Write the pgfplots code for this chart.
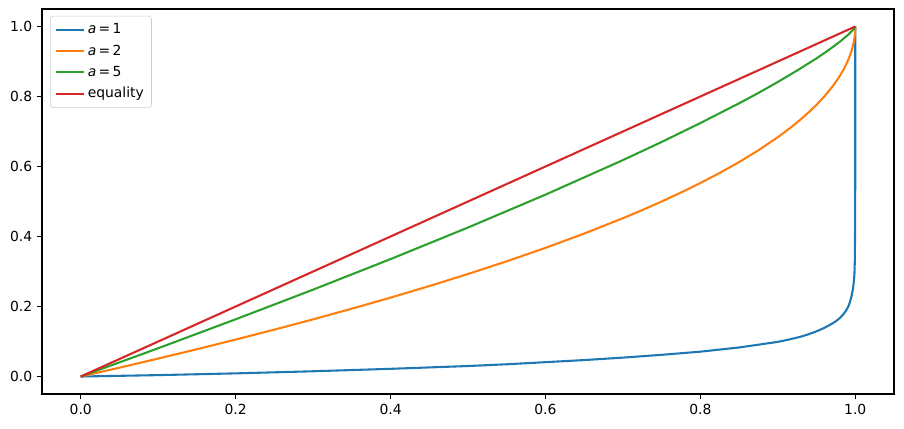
\documentclass[border=0pt]{standalone}
\usepackage{fontspec}
\setmainfont{DejaVu Sans}
\usepackage{pgfplots}
\pgfplotsset{compat=1.18}
\definecolor{C0}{HTML}{1F77B4}
\definecolor{C1}{HTML}{FF7F0E}
\definecolor{C2}{HTML}{2CA02C}
\definecolor{C3}{HTML}{D62728}
\begin{document}
\begin{tikzpicture}
\begin{axis}[
  name=ax,
  scale only axis,
  width=613.4pt, height=277.2pt,
  xmin=-0.05, xmax=1.05, ymin=-0.05, ymax=1.05,
  xtick={0,0.2,0.4,0.6,0.8,1.0},
  ytick={0,0.2,0.4,0.6,0.8,1.0},
  /pgf/number format/assume math mode=true,
  xticklabel style={/pgf/number format/fixed,/pgf/number format/fixed zerofill,/pgf/number format/precision=1},
  yticklabel style={/pgf/number format/fixed,/pgf/number format/fixed zerofill,/pgf/number format/precision=1},
  tick align=outside, tickpos=left,
  major tick length=3.5pt,
  every tick/.style={black, line width=0.8pt},
  axis line style={line width=0.8pt},
  ticklabel style={font=\fontsize{10}{12}\selectfont},
  legend style={at={(0.0094,0.982)}, anchor=north west,
    draw=black!20, rounded corners=2pt, font=\fontsize{10}{12}\selectfont,
    row sep=2.4pt, inner sep=3.5pt},
  legend cell align=left,
  legend image code/.code={\draw[#1, line width=1.5pt] (0pt,0pt) -- (20pt,0pt);},
  every axis plot/.append style={line width=1.5pt, line join=round},
]
\addplot[C0] coordinates {
(0,0) (0.05,0.002) (0.1,0.004) (0.15,0.0065) (0.2,0.009) (0.25,0.012) (0.3,0.015) (0.35,0.0185) (0.4,0.022) (0.45,0.026) (0.5,0.030)
(0.55,0.035) (0.6,0.041) (0.65,0.047) (0.7,0.054) (0.75,0.062) (0.8,0.071) (0.825,0.077) (0.85,0.083) (0.875,0.091) (0.9,0.099) (0.915,0.106) (0.93,0.114)
(0.94,0.121) (0.95,0.129) (0.96,0.139) (0.97,0.151) (0.975,0.158) (0.98,0.167) (0.985,0.179) (0.988,0.188) (0.991,0.20) (0.993,0.212) (0.995,0.228) (0.997,0.25) (0.998,0.268) (0.999,0.295) (0.9995,0.34) (0.9998,0.45) (1.0,0.6) (1.0,1.0)
};
\addlegendentry{\textit{a}\,=\,1}
\addplot[C1] coordinates {
(0,0) (0.05,0.0253) (0.1,0.0513) (0.15,0.0780) (0.2,0.1056) (0.25,0.1340) (0.3,0.1633) (0.35,0.1938) (0.4,0.2254) (0.45,0.2584) (0.5,0.2929)
(0.55,0.3292) (0.6,0.3675) (0.65,0.4084) (0.7,0.4523) (0.725,0.4756) (0.75,0.5) (0.775,0.5257) (0.8,0.5528) (0.825,0.5817) (0.85,0.6127) (0.875,0.6464) (0.9,0.6838) (0.915,0.7085) (0.93,0.7354)
(0.94,0.7551) (0.95,0.7764) (0.96,0.8) (0.97,0.8268) (0.975,0.8419) (0.98,0.8586) (0.985,0.8775) (0.99,0.9) (0.993,0.9163) (0.995,0.9293) (0.997,0.9452) (0.998,0.9553) (0.999,0.9684) (0.9995,0.9776) (0.9999,0.99) (1,1)
};
\addlegendentry{\textit{a}\,=\,2}
\addplot[C2] coordinates {
(0,0) (0.1,0.0808) (0.2,0.1635) (0.3,0.2482) (0.4,0.3355) (0.5,0.4257) (0.6,0.5196) (0.7,0.6183) (0.75,0.6701) (0.8,0.7241) (0.85,0.7806)
(0.875,0.8102) (0.9,0.8415) (0.925,0.8744) (0.95,0.9090) (0.965,0.9317) (0.98,0.9563) (0.99,0.9749) (0.995,0.9856) (0.998,0.9930) (1,1)
};
\addlegendentry{\textit{a}\,=\,5}
\addplot[C3] coordinates {(0,0) (1,1)};
\addlegendentry{equality}
\end{axis}
\path[use as bounding box] ([shift={(-30.24pt,-24.48pt)}]ax.south west) rectangle ([shift={(7.2pt,6.48pt)}]ax.north east);
\end{tikzpicture}
\end{document}
